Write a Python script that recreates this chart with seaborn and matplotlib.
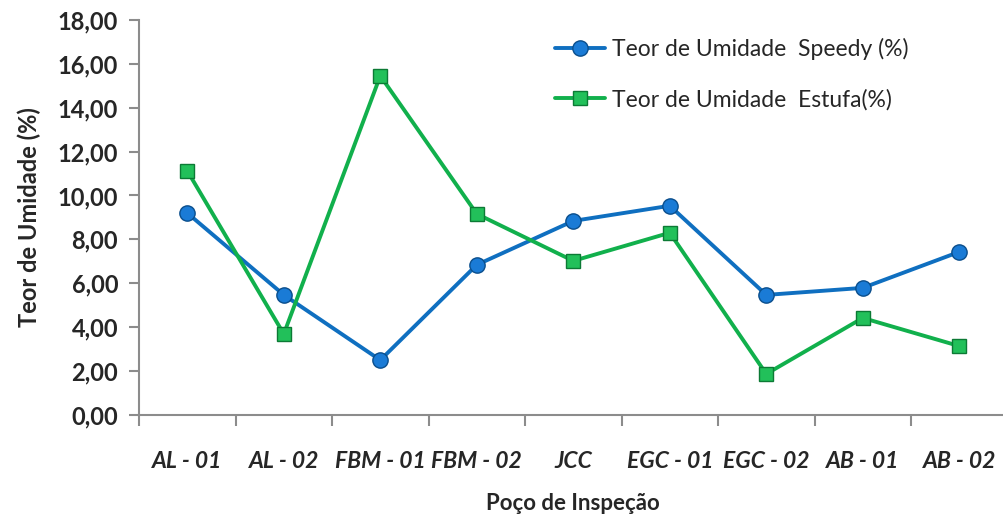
import pandas as pd
import seaborn as sns
import matplotlib.pyplot as plt
from matplotlib.ticker import FixedLocator, FuncFormatter

# Dados
pocos = ['AL - 01', 'AL - 02', 'FBM - 01', 'FBM - 02', 'JCC',
         'EGC - 01', 'EGC - 02', 'AB - 01', 'AB - 02']
speedy = [9.20, 5.47, 2.50, 6.84, 8.84, 9.53, 5.47, 5.79, 7.43]
estufa = [11.12, 3.69, 15.45, 9.16, 7.02, 8.30, 1.87, 4.42, 3.14]

rotulo_speedy = 'Teor de Umidade  Speedy (%)'
rotulo_estufa = 'Teor de Umidade  Estufa(%)'

sns.set_style('white')
plt.rcParams['font.family'] = ['Lato', 'DejaVu Sans']

fig = plt.figure(figsize=(10.04, 5.22), dpi=100)
ax = fig.add_axes([0.1385, 0.205, 0.865, 0.757])

x = list(range(len(pocos)))
sns.lineplot(x=x, y=speedy, ax=ax, color='#0F6FC0', linewidth=2.8,
             marker='o', markersize=11, markerfacecolor='#1A7BD6',
             markeredgecolor='#0A4E8C', markeredgewidth=1,
             label=rotulo_speedy)
sns.lineplot(x=x, y=estufa, ax=ax, color='#11B04C', linewidth=2.8,
             marker='s', markersize=10, markerfacecolor='#22C05A',
             markeredgecolor='#0C7A35', markeredgewidth=1,
             label=rotulo_estufa)

ax.set_xlim(-0.5, len(pocos) - 0.5)
ax.set_ylim(0, 18)
ax.set_yticks(range(0, 19, 2))
ax.yaxis.set_major_formatter(FuncFormatter(lambda v, p: f'{v:.2f}'.replace('.', ',')))

ax.set_xticks(x)
ax.set_xticklabels(pocos, fontsize=16.5, fontweight='bold', fontstyle='italic')
ax.xaxis.set_minor_locator(FixedLocator([i - 0.5 for i in range(len(pocos) + 1)]))
ax.tick_params(axis='x', which='major', bottom=False, length=0, pad=26)
ax.tick_params(axis='x', which='minor', bottom=True, length=8, width=1.5,
               color='#8C8C8C', direction='out')
ax.tick_params(axis='y', left=True, length=7, width=1.5, color='#8C8C8C',
               direction='out', labelsize=17, pad=8)
for t in ax.get_yticklabels():
    t.set_fontweight('bold')

for lado in ['top', 'right']:
    ax.spines[lado].set_visible(False)
for lado in ['left', 'bottom']:
    ax.spines[lado].set_color('#8C8C8C')
    ax.spines[lado].set_linewidth(1.5)

ax.set_xlabel('Poço de Inspeção', fontsize=16, fontweight='bold', labelpad=15)
ax.set_ylabel('Teor de Umidade (%)', fontsize=17, fontweight='bold', labelpad=12)

ax.legend(loc='upper left', bbox_to_anchor=(0.46, 0.995), frameon=False,
          fontsize=16.5, handlelength=2.2, handletextpad=0.3,
          labelspacing=1.25, borderaxespad=0.3)

fig.savefig('out.png', dpi=100)
